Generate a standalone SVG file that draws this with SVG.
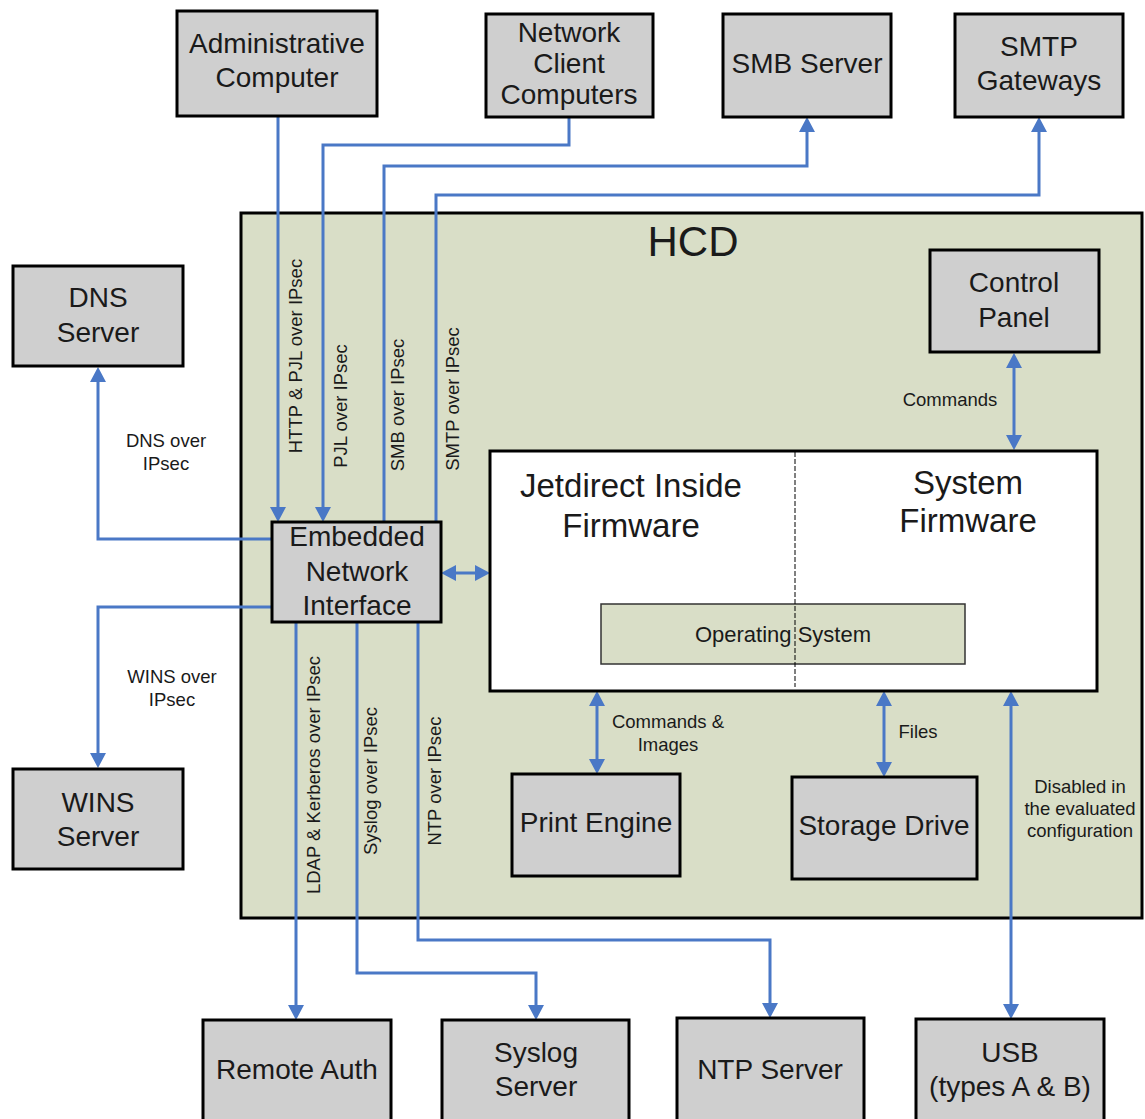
<svg xmlns="http://www.w3.org/2000/svg" width="1145" height="1119" viewBox="0 0 1145 1119">
<defs>
<marker id="arr" viewBox="0 0 15 16" refX="11" refY="8" markerWidth="15" markerHeight="16" markerUnits="userSpaceOnUse" orient="auto-start-reverse">
<path d="M0,0 L15,8 L0,16 z" fill="#4a78c6"/>
</marker>
<style>
.box{fill:#cfcfcf;stroke:#000;stroke-width:3}
.t{font-family:"Liberation Sans",Arial,sans-serif;fill:#1a1a1a;text-anchor:middle}
.big{font-size:28px}
.sm{font-size:18.5px}
.c{fill:none;stroke:#4a78c6;stroke-width:3}
.e{marker-end:url(#arr)}
.b{marker-start:url(#arr);marker-end:url(#arr)}
</style>
</defs>
<rect width="1145" height="1119" fill="#fff"/>
<g id="hcd">
<rect x="241" y="213" width="901" height="705" fill="#d9dec7" stroke="#000" stroke-width="3"/>
<text class="t" x="693" y="256" font-size="42">HCD</text>
</g>
<g id="connectors">
<path class="c e" d="M278,117 V518"/>
<path class="c e" d="M569,117 V145 H323 V518"/>
<path class="c e" d="M384,522 V166 H807 V121"/>
<path class="c e" d="M436,522 V195 H1039 V121"/>
<path class="c e" d="M272,539 H98 V371"/>
<path class="c e" d="M272,607 H98 V764"/>
<path class="c b" d="M445,573 H486"/>
<path class="c e" d="M296,622 V1016"/>
<path class="c e" d="M357,622 V973 H536 V1016"/>
<path class="c e" d="M418,622 V940 H770 V1014"/>
<path class="c b" d="M1011,695 V1015"/>
<path class="c b" d="M1014,357 V446"/>
<path class="c b" d="M597,695 V770"/>
<path class="c b" d="M884,695 V773"/>
<g class="t sm">
<text transform="translate(302,356) rotate(-90)">HTTP &amp; PJL over IPsec</text>
<text transform="translate(347,406) rotate(-90)">PJL over IPsec</text>
<text transform="translate(404,405) rotate(-90)">SMB over IPsec</text>
<text transform="translate(459,399) rotate(-90)">SMTP over IPsec</text>
<text transform="translate(320,775) rotate(-90)">LDAP &amp; Kerberos over IPsec</text>
<text transform="translate(377,781) rotate(-90)">Syslog over IPsec</text>
<text transform="translate(441,781) rotate(-90)">NTP over IPsec</text>
<text x="166" y="447">DNS over</text>
<text x="166" y="470">IPsec</text>
<text x="172" y="683">WINS over</text>
<text x="172" y="706">IPsec</text>
<text x="950" y="406">Commands</text>
<text x="668" y="728">Commands &amp;</text>
<text x="668" y="751">Images</text>
<text x="918" y="738">Files</text>
<text x="1080" y="793">Disabled in</text>
<text x="1080" y="815">the evaluated</text>
<text x="1080" y="837">configuration</text>
</g>
</g>
<g id="admin"><rect class="box" x="177" y="11" width="200" height="105"/><text class="t big" x="277" y="53">Administrative</text><text class="t big" x="277" y="87">Computer</text></g>
<g id="netclient"><rect class="box" x="486" y="14" width="167" height="103"/><text class="t big" x="569" y="42">Network</text><text class="t big" x="569" y="73">Client</text><text class="t big" x="569" y="104">Computers</text></g>
<g id="smb"><rect class="box" x="723" y="14" width="168" height="103"/><text class="t big" x="807" y="73">SMB Server</text></g>
<g id="smtp"><rect class="box" x="955" y="14" width="168" height="103"/><text class="t big" x="1039" y="56">SMTP</text><text class="t big" x="1039" y="90">Gateways</text></g>
<g id="dns"><rect class="box" x="13" y="266" width="170" height="100"/><text class="t big" x="98" y="307">DNS</text><text class="t big" x="98" y="342">Server</text></g>
<g id="wins"><rect class="box" x="13" y="769" width="170" height="100"/><text class="t big" x="98" y="812">WINS</text><text class="t big" x="98" y="846">Server</text></g>
<g id="controlpanel"><rect class="box" x="930" y="250" width="169" height="102"/><text class="t big" x="1014" y="292">Control</text><text class="t big" x="1014" y="327">Panel</text></g>
<g id="eni"><rect class="box" x="272" y="522" width="169" height="100"/><text class="t big" x="357" y="546">Embedded</text><text class="t big" x="357" y="581">Network</text><text class="t big" x="357" y="615">Interface</text></g>
<g id="firmware">
<rect x="490" y="451" width="607" height="240" fill="#fff" stroke="#000" stroke-width="3"/>
<rect id="os" x="601" y="604" width="364" height="60" fill="#d9dec7" stroke="#333" stroke-width="1.5"/>
<line x1="795" y1="452" x2="795" y2="687" stroke="#000" stroke-width="1" stroke-dasharray="5,2"/>
<text class="t" x="631" y="497" font-size="33">Jetdirect Inside</text>
<text class="t" x="631" y="537" font-size="33">Firmware</text>
<text class="t" x="968" y="494" font-size="33">System</text>
<text class="t" x="968" y="532" font-size="33">Firmware</text>
<text class="t" x="783" y="642" font-size="22">Operating System</text>
</g>
<g id="printengine"><rect class="box" x="512" y="774" width="168" height="102"/><text class="t big" x="596" y="832">Print Engine</text></g>
<g id="storage"><rect class="box" x="792" y="777" width="185" height="102"/><text class="t big" x="884" y="835">Storage Drive</text></g>
<g id="remoteauth"><rect class="box" x="203" y="1020" width="188" height="110"/><text class="t big" x="297" y="1079">Remote Auth</text></g>
<g id="syslog"><rect class="box" x="442" y="1020" width="187" height="110"/><text class="t big" x="536" y="1062">Syslog</text><text class="t big" x="536" y="1096">Server</text></g>
<g id="ntp"><rect class="box" x="677" y="1018" width="187" height="110"/><text class="t big" x="770" y="1079">NTP Server</text></g>
<g id="usb"><rect class="box" x="916" y="1019" width="188" height="110"/><text class="t big" x="1010" y="1062">USB</text><text class="t big" x="1010" y="1096">(types A &amp; B)</text></g>
</svg>
